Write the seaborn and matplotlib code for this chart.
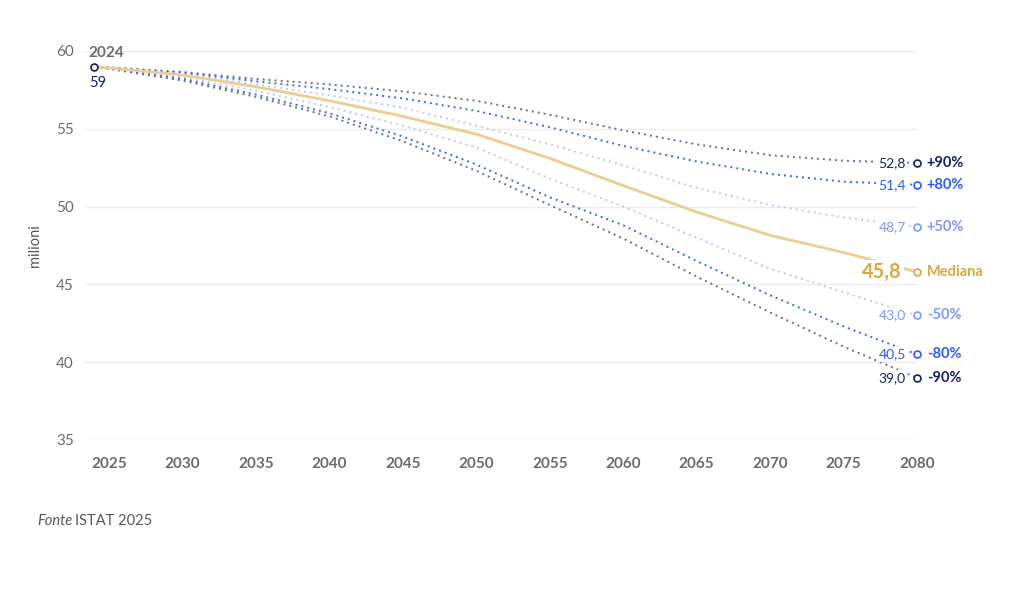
import pandas as pd
import numpy as np
import matplotlib
matplotlib.use("Agg")
import matplotlib.pyplot as plt
import seaborn as sns

years = [2024, 2030, 2035, 2040, 2045, 2050, 2055, 2060, 2065, 2070, 2075, 2080]

p90 = [59.0, 58.65, 58.2, 57.85, 57.4, 56.8, 55.9, 54.9, 54.0, 53.3, 52.95, 52.8]
p80 = [59.0, 58.6, 58.05, 57.55, 56.95, 56.15, 55.1, 53.9, 52.9, 52.1, 51.6, 51.4]
p50 = [59.0, 58.5, 57.85, 57.15, 56.35, 55.2, 54.0, 52.65, 51.2, 50.1, 49.3, 48.7]
median = [59.0, 58.45, 57.7, 56.8, 55.8, 54.65, 53.1, 51.35, 49.65, 48.15, 47.05, 45.8]
m50 = [59.0, 58.3, 57.45, 56.4, 55.2, 53.8, 51.8, 50.0, 48.0, 46.0, 44.5, 43.0]
m80 = [59.0, 58.2, 57.2, 56.0, 54.5, 52.7, 50.6, 48.8, 46.5, 44.3, 42.3, 40.5]
m90 = [59.0, 58.1, 57.05, 55.8, 54.2, 52.3, 50.1, 47.95, 45.5, 43.2, 41.0, 39.0]

series_names = ["+90%", "+80%", "+50%", "Mediana", "-50%", "-80%", "-90%"]
series_vals = [p90, p80, p50, median, m50, m80, m90]
end_labels = ["52,8", "51,4", "48,7", "45,8", "43,0", "40,5", "39,0"]

navy = "#16215f"
blue = "#2b5cff"
light = "#7f97ff"
gold = "#dba83c"
grey = "#6b6b6b"

line_colors = {"+90%": "#6a6e8c", "+80%": "#3a66ff", "+50%": "#bac7ff", "Mediana": "#ebcd8f",
               "-50%": "#bac7ff", "-80%": "#3a66ff", "-90%": "#6a6e8c"}
text_colors = {"+90%": navy, "+80%": blue, "+50%": light, "Mediana": gold,
               "-50%": light, "-80%": blue, "-90%": navy}

df = pd.DataFrame({"anno": years * len(series_names),
                   "valore": sum(series_vals, []),
                   "serie": np.repeat(series_names, len(years))})

sns.set_theme(style="white")
plt.rcParams["font.family"] = ["Lato", "DejaVu Sans"]

fig = plt.figure(figsize=(10.24, 5.92), dpi=100)
ax = fig.add_axes([0.083, 0.2568, 0.8125, 0.6571])

for name in series_names:
    sub = df[df["serie"] == name]
    if name == "Mediana":
        sns.lineplot(data=sub, x="anno", y="valore", ax=ax, color=line_colors[name],
                     linewidth=2.0, zorder=4)
    else:
        sns.lineplot(data=sub, x="anno", y="valore", ax=ax, color=line_colors[name],
                     linewidth=1.4, linestyle=(0, (1, 2.1)), zorder=3)

# start point
ax.plot(years[0], median[0], marker="o", markersize=5, markerfacecolor="white",
        markeredgecolor=navy, markeredgewidth=1.2, zorder=6)
ax.annotate("2024", (years[0], median[0]), xytext=(-4, 5), textcoords="offset points",
            fontsize=11, fontweight="bold", color=grey, va="bottom", ha="left")
ax.annotate("59", (years[0], median[0]), xytext=(-4, -7), textcoords="offset points",
            fontsize=10.5, color=navy, va="top", ha="left")

# end labels
for name, vals, lab in zip(series_names, series_vals, end_labels):
    c = text_colors[name]
    ax.plot(years[-1], vals[-1], marker="o", markersize=5, markerfacecolor="white",
            markeredgecolor=c, markeredgewidth=1.2, zorder=6, clip_on=False)
    if name == "Mediana":
        ax.annotate(lab, (years[-1], vals[-1]), xytext=(-11, 0), textcoords="offset points",
                    fontsize=14.5, fontweight="bold", color=c, va="center", ha="right",
                    bbox=dict(boxstyle="square,pad=0.1", fc="white", ec="none"), zorder=5)
    else:
        ax.annotate(lab, (years[-1], vals[-1]), xytext=(-8, 0), textcoords="offset points",
                    fontsize=10, color=c, va="center", ha="right",
                    bbox=dict(boxstyle="square,pad=0.1", fc="white", ec="none"), zorder=5)
    ax.annotate(name, (years[-1], vals[-1]), xytext=(7, 0), textcoords="offset points",
                fontsize=10.5, fontweight="bold", color=c, va="center", ha="left",
                annotation_clip=False)

ax.set_xlim(2023.36, 2080)
ax.set_ylim(35, 60)
ax.set_xticks(range(2025, 2081, 5))
ax.set_yticks(range(35, 61, 5))
ax.yaxis.grid(True, color="#ebebeb", linewidth=1)
ax.xaxis.grid(False)
for s in ax.spines.values():
    s.set_visible(False)
ax.tick_params(axis="x", colors="#e0e0e0", length=6, width=1, labelcolor=grey,
               labelsize=11, pad=6)
ax.tick_params(axis="y", length=0, labelcolor=grey, labelsize=11, pad=8)
for t in ax.get_xticklabels():
    t.set_fontweight("bold")
ax.set_xlabel("")
ax.set_ylabel("milioni", color="#555555", fontsize=10.5, labelpad=10)

fig.text(0.036, 0.12, "Fonte", fontsize=10.5, color="#555555", style="italic", va="center")
fig.text(0.073, 0.12, "ISTAT 2025", fontsize=10.5, color="#555555", va="center")

fig.savefig("out.png", dpi=100)
